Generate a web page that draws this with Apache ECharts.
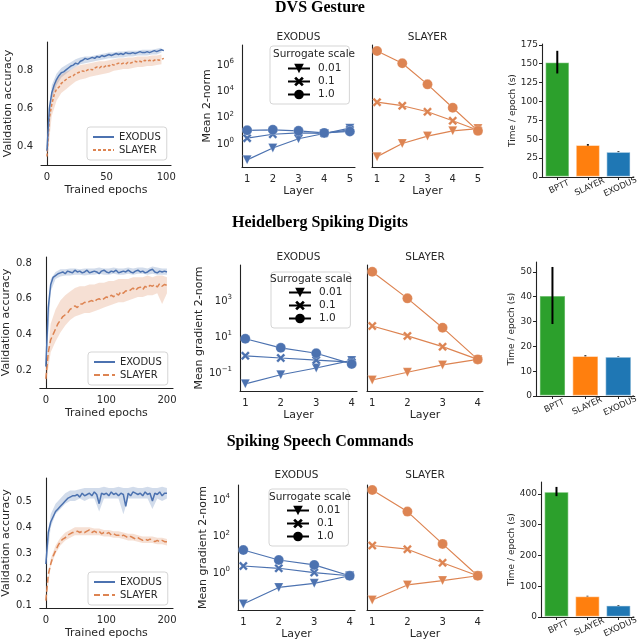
<!DOCTYPE html>
<html>
<head>
<meta charset="utf-8">
<script src="https://cdn.jsdelivr.net/npm/echarts@6/dist/echarts.min.js"></script>
<style>
  html, body { margin: 0; padding: 0; background: #fff; }
  #main { width: 640px; height: 641px; }
</style>
</head>
<body>
<div id="main"></div>
<script>
// ---------- data ----------
// validation accuracy, DVS Gesture (every 2 epochs)
const dvsEpochs = Array.from({ length: 50 }, (_, i) => i * 2)
const dvsExodus = [0.38, 0.60, 0.68, 0.72, 0.75, 0.77, 0.785, 0.79, 0.80, 0.81, 0.82, 0.825, 0.835, 0.83, 0.845, 0.85, 0.86, 0.855, 0.86, 0.865,
  0.86, 0.87, 0.865, 0.875, 0.87, 0.875, 0.88, 0.875, 0.88, 0.885, 0.88, 0.885, 0.88, 0.89, 0.885, 0.885, 0.89, 0.885, 0.89, 0.895,
  0.89, 0.89, 0.895, 0.89, 0.895, 0.90, 0.895, 0.90, 0.905, 0.90]
const dvsSlayer = [0.35, 0.55, 0.62, 0.67, 0.70, 0.71, 0.73, 0.74, 0.75, 0.76, 0.765, 0.77, 0.78, 0.785, 0.79, 0.795, 0.79, 0.80, 0.805, 0.80,
  0.81, 0.815, 0.81, 0.82, 0.815, 0.825, 0.82, 0.83, 0.825, 0.83, 0.835, 0.83, 0.835, 0.83, 0.84, 0.835, 0.84, 0.845, 0.84, 0.845,
  0.84, 0.85, 0.845, 0.85, 0.845, 0.85, 0.855, 0.85, 0.855, 0.86]
// shaded bands (every 4 epochs)
const dvsBandEpochs = Array.from({ length: 25 }, (_, i) => i * 4)
const dvsExodusLo = [0.35, 0.64, 0.72, 0.76, 0.78, 0.80, 0.815, 0.83, 0.835, 0.84, 0.845, 0.85, 0.855, 0.86, 0.86, 0.865, 0.865, 0.87, 0.87, 0.875, 0.875, 0.875, 0.88, 0.88, 0.89]
const dvsExodusHi = [0.41, 0.72, 0.78, 0.81, 0.825, 0.84, 0.855, 0.865, 0.87, 0.87, 0.875, 0.88, 0.885, 0.89, 0.89, 0.895, 0.895, 0.90, 0.90, 0.90, 0.905, 0.905, 0.905, 0.91, 0.915]
const dvsSlayerLo = [0.32, 0.56, 0.64, 0.68, 0.70, 0.72, 0.74, 0.75, 0.755, 0.765, 0.77, 0.775, 0.78, 0.785, 0.795, 0.80, 0.805, 0.805, 0.81, 0.815, 0.815, 0.82, 0.82, 0.825, 0.83]
const dvsSlayerHi = [0.38, 0.67, 0.75, 0.775, 0.79, 0.80, 0.815, 0.825, 0.83, 0.835, 0.84, 0.845, 0.845, 0.85, 0.855, 0.86, 0.86, 0.865, 0.865, 0.87, 0.87, 0.87, 0.875, 0.875, 0.88]

// validation accuracy, Heidelberg Spiking Digits (every 4 epochs)
const longEpochs = Array.from({ length: 51 }, (_, i) => i * 4)
const hsdExodus = [0.22, 0.55, 0.68, 0.72, 0.73, 0.74, 0.745, 0.75, 0.74, 0.755, 0.75, 0.745, 0.76, 0.75, 0.755, 0.745, 0.75, 0.76, 0.745, 0.75,
  0.755, 0.75, 0.74, 0.755, 0.76, 0.75, 0.745, 0.755, 0.75, 0.76, 0.745, 0.75, 0.755, 0.75, 0.76, 0.75, 0.745, 0.755, 0.76, 0.75,
  0.755, 0.745, 0.75, 0.76, 0.765, 0.75, 0.745, 0.755, 0.75, 0.755, 0.75]
const hsdSlayer = [0.15, 0.30, 0.37, 0.40, 0.43, 0.46, 0.48, 0.50, 0.51, 0.52, 0.54, 0.55, 0.56, 0.55, 0.57, 0.57, 0.58, 0.575, 0.585, 0.59,
  0.58, 0.595, 0.60, 0.59, 0.60, 0.61, 0.605, 0.62, 0.61, 0.63, 0.62, 0.64, 0.63, 0.645, 0.64, 0.65, 0.66, 0.645, 0.66, 0.665,
  0.65, 0.67, 0.66, 0.675, 0.67, 0.68, 0.665, 0.685, 0.67, 0.68, 0.675]
const longBandEpochs = Array.from({ length: 26 }, (_, i) => i * 8)
const hsdExodusLo = [0.18, 0.64, 0.71, 0.725, 0.73, 0.73, 0.735, 0.735, 0.73, 0.735, 0.735, 0.74, 0.735, 0.735, 0.74, 0.735, 0.735, 0.74, 0.735, 0.74, 0.74, 0.735, 0.74, 0.735, 0.735, 0.735]
const hsdExodusHi = [0.26, 0.71, 0.75, 0.765, 0.765, 0.77, 0.77, 0.765, 0.77, 0.77, 0.77, 0.775, 0.77, 0.77, 0.775, 0.77, 0.77, 0.775, 0.77, 0.775, 0.775, 0.77, 0.78, 0.775, 0.77, 0.77]
const hsdSlayerLo = [0.12, 0.30, 0.36, 0.41, 0.45, 0.48, 0.50, 0.51, 0.52, 0.52, 0.53, 0.54, 0.55, 0.56, 0.57, 0.58, 0.58, 0.59, 0.60, 0.61, 0.61, 0.62, 0.62, 0.63, 0.57, 0.63]
const hsdSlayerHi = [0.18, 0.46, 0.54, 0.59, 0.62, 0.64, 0.66, 0.67, 0.67, 0.68, 0.68, 0.69, 0.69, 0.70, 0.70, 0.71, 0.71, 0.71, 0.72, 0.72, 0.72, 0.73, 0.72, 0.73, 0.73, 0.72]

// validation accuracy, Spiking Speech Commands (every 4 epochs)
const sscExodus = [0.26, 0.38, 0.42, 0.44, 0.46, 0.47, 0.48, 0.49, 0.50, 0.51, 0.515, 0.52, 0.52, 0.525, 0.515, 0.53, 0.52, 0.525, 0.53, 0.52,
  0.535, 0.525, 0.49, 0.53, 0.525, 0.53, 0.52, 0.535, 0.525, 0.53, 0.52, 0.53, 0.525, 0.48, 0.53, 0.52, 0.535, 0.53, 0.525, 0.53,
  0.52, 0.535, 0.525, 0.53, 0.50, 0.53, 0.525, 0.535, 0.52, 0.53, 0.53]
const sscSlayer = [0.12, 0.22, 0.26, 0.29, 0.31, 0.33, 0.345, 0.355, 0.36, 0.37, 0.375, 0.38, 0.38, 0.385, 0.38, 0.385, 0.38, 0.385, 0.39, 0.38,
  0.385, 0.38, 0.385, 0.375, 0.38, 0.375, 0.38, 0.37, 0.375, 0.37, 0.37, 0.365, 0.37, 0.365, 0.36, 0.365, 0.36, 0.355, 0.36, 0.355,
  0.35, 0.355, 0.35, 0.355, 0.35, 0.345, 0.35, 0.345, 0.35, 0.345, 0.345]
const sscExodusLo = [0.24, 0.40, 0.45, 0.47, 0.49, 0.50, 0.50, 0.51, 0.50, 0.51, 0.51, 0.46, 0.51, 0.51, 0.51, 0.51, 0.45, 0.51, 0.51, 0.51, 0.51, 0.51, 0.47, 0.51, 0.50, 0.51]
const sscExodusHi = [0.28, 0.45, 0.49, 0.51, 0.53, 0.54, 0.54, 0.545, 0.55, 0.55, 0.55, 0.55, 0.555, 0.55, 0.55, 0.555, 0.55, 0.55, 0.555, 0.55, 0.55, 0.555, 0.55, 0.55, 0.555, 0.55]
const sscSlayerLo = [0.11, 0.25, 0.30, 0.33, 0.35, 0.36, 0.37, 0.37, 0.37, 0.37, 0.37, 0.37, 0.365, 0.365, 0.36, 0.36, 0.355, 0.35, 0.35, 0.345, 0.34, 0.34, 0.34, 0.335, 0.335, 0.33]
const sscSlayerHi = [0.13, 0.28, 0.33, 0.36, 0.38, 0.39, 0.40, 0.40, 0.40, 0.40, 0.395, 0.395, 0.39, 0.39, 0.385, 0.385, 0.38, 0.375, 0.375, 0.37, 0.365, 0.365, 0.365, 0.36, 0.36, 0.355]

// mean gradient 2-norm per layer, surrogate scale 0.01 / 0.1 / 1.0
const scales = ['0.01', '0.1', '1.0']
const dvsLayers = [1, 2, 3, 4, 5]
const dvsGradExodus = [[0.063, 0.5, 2.5, 6.3, 16], [2.8, 5.5, 7, 6.5, 12], [11, 12, 10, 7, 9]]
const dvsGradSlayer = [[0.11, 1.1, 4, 10, 15], [1500, 810, 280, 58, 11], [1.15e7, 1.35e6, 3.4e4, 570, 10]]
const layers4 = [1, 2, 3, 4]
const hsdGradExodus = [[0.025, 0.08, 0.19, 0.5], [0.9, 0.68, 0.52, 0.4], [8, 2.5, 1.25, 0.32]]
const hsdGradSlayer = [[0.041, 0.11, 0.28, 0.57], [41, 11.5, 2.9, 0.57], [4.2e4, 1400, 33, 0.57]]
const sscGradExodus = [[0.02, 0.16, 0.27, 0.7], [2.4, 1.8, 1.05, 0.7], [18, 5.1, 2.75, 0.7]]
const sscGradSlayer = [[0.033, 0.22, 0.38, 0.7], [32, 20, 3.6, 0.7], [3.5e4, 2300, 39, 0.7]]

// time per epoch (s)
const barCats = ['BPTT', 'SLAYER', 'EXODUS']
const dvsTime = [152, 42.5, 33.5]
const dvsTimeErr = [[137, 167], [41.5, 43.5], [33, 34]]
const dvsTimeTicks = [0, 25, 50, 75, 100, 125, 150, 175]
const hsdTime = [40.5, 16.2, 15.9]
const hsdTimeErr = [[29, 52], [16, 16.4], [15.8, 16]]
const hsdTimeTicks = [0, 10, 20, 30, 40, 50]
const sscTime = [408, 68, 38]
const sscTimeErr = [[393, 423], [67, 69], [37, 39]]
const sscTimeTicks = [0, 100, 200, 300, 400]

// ---------- styles ----------
const EXO = '#4c72b0'
const SLY = '#dd8452'
const BAR_COLORS = ['#2ca02c', '#ff7f0e', '#1f77b4']
const TXT = '#262626'
const FONT = 'DejaVu Sans'
const X_PATH = 'path://M2,0 L5,3 L8,0 L10,2 L7,5 L10,8 L8,10 L5,7 L2,10 L0,8 L3,5 L0,2 Z'
const SCALE_SYMBOL = [
  { symbol: 'triangle', rotate: 180, size: 9 },
  { symbol: X_PATH, rotate: 0, size: 9 },
  { symbol: 'circle', rotate: 0, size: 10 }
]

const grids = [], xAxes = [], yAxes = [], series = [], legends = [], graphics = []

const axisLineStyle = { lineStyle: { color: '#222', width: 1.1 } }
const labelStyle = (size) => ({ fontSize: size, color: TXT, fontFamily: FONT })

function addGrid(box) {
  grids.push({ left: box[0], top: box[1], width: box[2], height: box[3] })
  return grids.length - 1
}

function text(x, y, str, size, opt) {
  graphics.push({
    type: 'text', x, y, z: 10,
    style: Object.assign({ text: str, fill: TXT, font: size + 'px ' + FONT, textAlign: 'center', textVerticalAlign: 'middle' }, opt || {})
  })
}

// shaded band between lo and hi, one polygon through the axis scales
function band(ax, xs, lo, hi, color) {
  series.push({
    type: 'custom', xAxisIndex: ax, yAxisIndex: ax, silent: true, z: 1,
    encode: { x: 0, y: [1, 2] },
    data: xs.map((x, i) => [x, lo[i], hi[i]]),
    renderItem: (params, api) => {
      if (params.dataIndexInside !== 0) return null
      const top = [], bottom = []
      for (let i = 0; i < params.dataInsideLength; i++) {
        top.push(api.coord([api.value(0, i), api.value(2, i)]))
        bottom.unshift(api.coord([api.value(0, i), api.value(1, i)]))
      }
      return { type: 'polygon', shape: { points: top.concat(bottom) }, style: { fill: color } }
    }
  })
}

// accuracy vs epoch panel
function accPanel(p) {
  const g = addGrid(p.box)
  xAxes.push({
    gridIndex: g, type: 'value', min: p.xMin, max: p.xMax,
    name: 'Trained epochs', nameLocation: 'middle', nameGap: p.xGap, nameTextStyle: labelStyle(11),
    axisLine: axisLineStyle, axisTick: { show: false }, splitLine: { show: false },
    axisLabel: Object.assign({ customValues: p.xTicks, margin: 7 }, labelStyle(10))
  })
  yAxes.push({
    gridIndex: g, type: 'value', min: p.yMin, max: p.yMax,
    name: 'Validation accuracy', nameLocation: 'middle', nameGap: p.yGap, nameTextStyle: labelStyle(11),
    axisLine: axisLineStyle, axisTick: { show: false }, splitLine: { show: false },
    axisLabel: Object.assign({ customValues: p.yTicks, margin: 8, formatter: v => v.toFixed(1) }, labelStyle(10))
  })
  const ax = xAxes.length - 1
  band(ax, p.bandX, p.exoLo, p.exoHi, 'rgba(76,114,176,0.25)')
  band(ax, p.bandX, p.slyLo, p.slyHi, 'rgba(221,132,82,0.25)')
  const exoName = 'EXODUS#' + ax, slyName = 'SLAYER#' + ax
  series.push({
    name: exoName, type: 'line', xAxisIndex: ax, yAxisIndex: ax, symbol: 'none', color: EXO, z: 4,
    data: p.x.map((x, i) => [x, p.exo[i]]), lineStyle: { width: 1.5, color: EXO }
  })
  series.push({
    name: slyName, type: 'line', xAxisIndex: ax, yAxisIndex: ax, symbol: 'none', color: SLY, z: 3,
    data: p.x.map((x, i) => [x, p.sly[i]]), lineStyle: { width: 1.5, color: SLY, type: p.dash }
  })
  legends.push({
    data: [exoName, slyName], left: p.legend[0], top: p.legend[1], orient: 'vertical',
    itemWidth: 21, itemHeight: 10, itemGap: 3, padding: [5, 6, 5, 5],
    itemStyle: { opacity: 0 },
    borderColor: '#d5d5d5', borderWidth: 1, borderRadius: 3, backgroundColor: '#fff',
    selectedMode: false, formatter: n => n.split('#')[0],
    textStyle: labelStyle(10)
  })
}

function logLabel(v) {
  const e = Math.round(Math.log10(v))
  return '{b|10}{e|' + String(e).replace('-', '\u2212') + '}'
}

// gradient norm per layer, EXODUS and SLAYER side by side
function gradPanel(p) {
  const parts = [
    { box: p.exoBox, vals: p.exo, color: EXO, title: 'EXODUS', labels: true },
    { box: p.slyBox, vals: p.sly, color: SLY, title: 'SLAYER', labels: false }
  ]
  let firstAx = -1
  parts.forEach(part => {
    const g = addGrid(part.box)
    xAxes.push({
      gridIndex: g, type: 'value', min: p.xMin, max: p.xMax,
      name: 'Layer', nameLocation: 'middle', nameGap: p.xGap, nameTextStyle: labelStyle(11),
      axisLine: axisLineStyle, axisTick: { show: false }, splitLine: { show: false },
      axisLabel: Object.assign({ customValues: p.layers, margin: 7 }, labelStyle(10))
    })
    yAxes.push({
      gridIndex: g, type: 'log', logBase: 10, min: p.yMin, max: p.yMax,
      name: part.labels ? p.yName : '', nameLocation: 'middle', nameGap: p.yGap, nameTextStyle: labelStyle(11),
      axisLine: axisLineStyle, axisTick: { show: false }, splitLine: { show: false }, minorSplitLine: { show: false },
      axisLabel: {
        show: part.labels, customValues: p.yTicks, margin: 8, formatter: logLabel,
        rich: {
          b: labelStyle(10),
          e: Object.assign({ padding: [0, 0, 7, 0] }, labelStyle(7))
        }
      }
    })
    const ax = xAxes.length - 1
    if (firstAx < 0) firstAx = ax
    part.vals.forEach((vals, k) => {
      const s = SCALE_SYMBOL[k]
      series.push({
        type: 'line', xAxisIndex: ax, yAxisIndex: ax, color: part.color,
        symbol: s.symbol, symbolSize: s.size, symbolRotate: s.rotate, showSymbol: true,
        data: p.layers.map((l, i) => [l, vals[i]]),
        lineStyle: { width: 1.2, color: part.color },
        itemStyle: { color: part.color, borderColor: 'rgba(255,255,255,0.35)', borderWidth: 0.6 }
      })
    })
    text(part.box[0] + part.box[2] / 2, p.titleY, part.title, 10.5)
  })
  // legend entries drawn from empty black series
  const names = scales.map(s => s + '#' + firstAx)
  scales.forEach((s, k) => {
    const sym = SCALE_SYMBOL[k]
    series.push({
      name: names[k], type: 'line', xAxisIndex: firstAx, yAxisIndex: firstAx, data: [],
      color: '#000', symbol: sym.symbol, symbolSize: sym.size, symbolRotate: sym.rotate,
      lineStyle: { color: '#000', width: 1.5 }, itemStyle: { color: '#000' }
    })
  })
  legends.push({
    data: names, left: p.legend[0], top: p.legend[1], orient: 'vertical',
    itemWidth: 22, itemHeight: 12, itemGap: 2, padding: [p.legendPadTop, 8, 4, 17],
    borderColor: '#d5d5d5', borderWidth: 1, borderRadius: 3, backgroundColor: '#fff',
    selectedMode: false, formatter: n => n.split('#')[0],
    textStyle: Object.assign({ padding: [0, 0, 0, 3] }, labelStyle(10.5))
  })
  text(p.legendTitle[0], p.legendTitle[1], 'Surrogate scale', 10.5)
}

// time per epoch bars with error bars
function errBar(params, api) {
  const lo = api.coord([api.value(0), api.value(1)])
  const hi = api.coord([api.value(0), api.value(2)])
  return { type: 'line', shape: { x1: lo[0], y1: lo[1], x2: hi[0], y2: hi[1] }, style: { stroke: '#000', lineWidth: 2 } }
}

function barPanel(p) {
  const g = addGrid(p.box)
  xAxes.push({
    gridIndex: g, type: 'category', data: barCats,
    axisLine: axisLineStyle, axisTick: { show: true, alignWithLabel: true, length: 3, lineStyle: { color: '#222' } },
    axisLabel: Object.assign({ rotate: 25, margin: 6, interval: 0, align: 'center', verticalAlign: 'top' }, labelStyle(8.5))
  })
  yAxes.push({
    gridIndex: g, type: 'value', min: 0, max: p.yMax,
    name: 'Time / epoch (s)', nameLocation: 'middle', nameGap: p.yGap, nameTextStyle: labelStyle(9),
    axisLine: Object.assign({ show: true }, axisLineStyle),
    axisTick: { show: true, length: 3, customValues: p.ticks, lineStyle: { color: '#222' } },
    splitLine: { show: false },
    axisLabel: Object.assign({ margin: 4, customValues: p.ticks }, labelStyle(9))
  })
  const ax = xAxes.length - 1
  series.push({
    type: 'bar', xAxisIndex: ax, yAxisIndex: ax, barCategoryGap: '20%',
    data: p.vals.map((v, i) => ({ value: v, itemStyle: { color: BAR_COLORS[i], borderColor: 'rgba(255,255,255,0.45)', borderWidth: 1.2 } }))
  })
  series.push({
    type: 'custom', xAxisIndex: ax, yAxisIndex: ax, renderItem: errBar, z: 5,
    data: p.err.map((e, i) => [i, e[0], e[1]])
  })
}

// ---------- row 1: DVS Gesture ----------
accPanel({
  box: [41, 42, 130, 123], xMin: -5, xMax: 104, xTicks: [0, 50, 100], yMin: 0.306, yMax: 0.945, yTicks: [0.4, 0.6, 0.8],
  xGap: 20, yGap: 27, x: dvsEpochs, exo: dvsExodus, sly: dvsSlayer, dash: [3, 2],
  bandX: dvsBandEpochs, exoLo: dvsExodusLo, exoHi: dvsExodusHi, slyLo: dvsSlayerLo, slyHi: dvsSlayerHi, legend: [87, 127]
})
gradPanel({
  exoBox: [242, 45, 113, 122], slyBox: [372, 45, 111, 122], xMin: 0.8, xMax: 5.2, layers: dvsLayers,
  yMin: 0.018, yMax: 3.3e7, yTicks: [1, 1e2, 1e4, 1e6], yName: 'Mean 2-norm', yGap: 28, xGap: 19, titleY: 37,
  exo: dvsGradExodus, sly: dvsGradSlayer, legend: [270, 46], legendPadTop: 17, legendTitle: [314, 54]
})
barPanel({ box: [542, 44, 98, 133], vals: dvsTime, err: dvsTimeErr, yMax: 176, ticks: dvsTimeTicks, yGap: 24 })

// ---------- row 2: Heidelberg Spiking Digits ----------
accPanel({
  box: [36, 257, 137, 131], xMin: -10, xMax: 210, xTicks: [0, 100, 200], yMin: 0.099, yMax: 0.834, yTicks: [0.2, 0.4, 0.6, 0.8],
  xGap: 20, yGap: 25, x: longEpochs, exo: hsdExodus, sly: hsdSlayer, dash: [6, 3],
  bandX: longBandEpochs, exoLo: hsdExodusLo, exoHi: hsdExodusHi, slyLo: hsdSlayerLo, slyHi: hsdSlayerHi, legend: [88, 352]
})
gradPanel({
  exoBox: [240, 265, 117, 126], slyBox: [367, 265, 116, 126], xMin: 0.85, xMax: 4.15, layers: layers4,
  yMin: 0.01, yMax: 1e5, yTicks: [0.1, 10, 1e3], yName: 'Mean gradient 2-norm', yGap: 30, xGap: 19, titleY: 257,
  exo: hsdGradExodus, sly: hsdGradSlayer, legend: [271, 272], legendPadTop: 15, legendTitle: [311, 279]
})
barPanel({ box: [536, 262, 104, 134], vals: hsdTime, err: hsdTimeErr, yMax: 54, ticks: hsdTimeTicks, yGap: 19 })

// ---------- row 3: Spiking Speech Commands ----------
accPanel({
  box: [36, 478, 137, 130], xMin: -10, xMax: 210, xTicks: [0, 100, 200], yMin: 0.092, yMax: 0.588, yTicks: [0.1, 0.2, 0.3, 0.4, 0.5],
  xGap: 20, yGap: 25, x: longEpochs, exo: sscExodus, sly: sscSlayer, dash: [6, 3],
  bandX: longBandEpochs, exoLo: sscExodusLo, exoHi: sscExodusHi, slyLo: sscSlayerLo, slyHi: sscSlayerHi, legend: [88, 572]
})
gradPanel({
  exoBox: [238, 485, 117, 125], slyBox: [367, 485, 116, 125], xMin: 0.85, xMax: 4.15, layers: layers4,
  yMin: 0.0093, yMax: 6.6e4, yTicks: [1, 1e2, 1e4], yName: 'Mean gradient 2-norm', yGap: 27, xGap: 19, titleY: 475,
  exo: sscGradExodus, sly: sscGradSlayer, legend: [269, 489], legendPadTop: 16, legendTitle: [310, 497]
})
barPanel({ box: [541, 482, 99, 135], vals: sscTime, err: sscTimeErr, yMax: 439, ticks: sscTimeTicks, yGap: 24 })

// row titles
const serif = 'bold 16px "Liberation Serif", "Times New Roman", serif'
graphics.push({ type: 'text', x: 320, y: 8, style: { text: 'DVS Gesture', font: serif, fill: '#000', textAlign: 'center', textVerticalAlign: 'middle' } })
graphics.push({ type: 'text', x: 320, y: 223, style: { text: 'Heidelberg Spiking Digits', font: serif, fill: '#000', textAlign: 'center', textVerticalAlign: 'middle' } })
graphics.push({ type: 'text', x: 320, y: 442, style: { text: 'Spiking Speech Commands', font: serif, fill: '#000', textAlign: 'center', textVerticalAlign: 'middle' } })

const myChart = echarts.init(document.getElementById('main'))
myChart.setOption({
  animation: false,
  backgroundColor: '#fff',
  grid: grids,
  xAxis: xAxes,
  yAxis: yAxes,
  legend: legends,
  graphic: graphics,
  series: series
})
</script>
</body>
</html>
